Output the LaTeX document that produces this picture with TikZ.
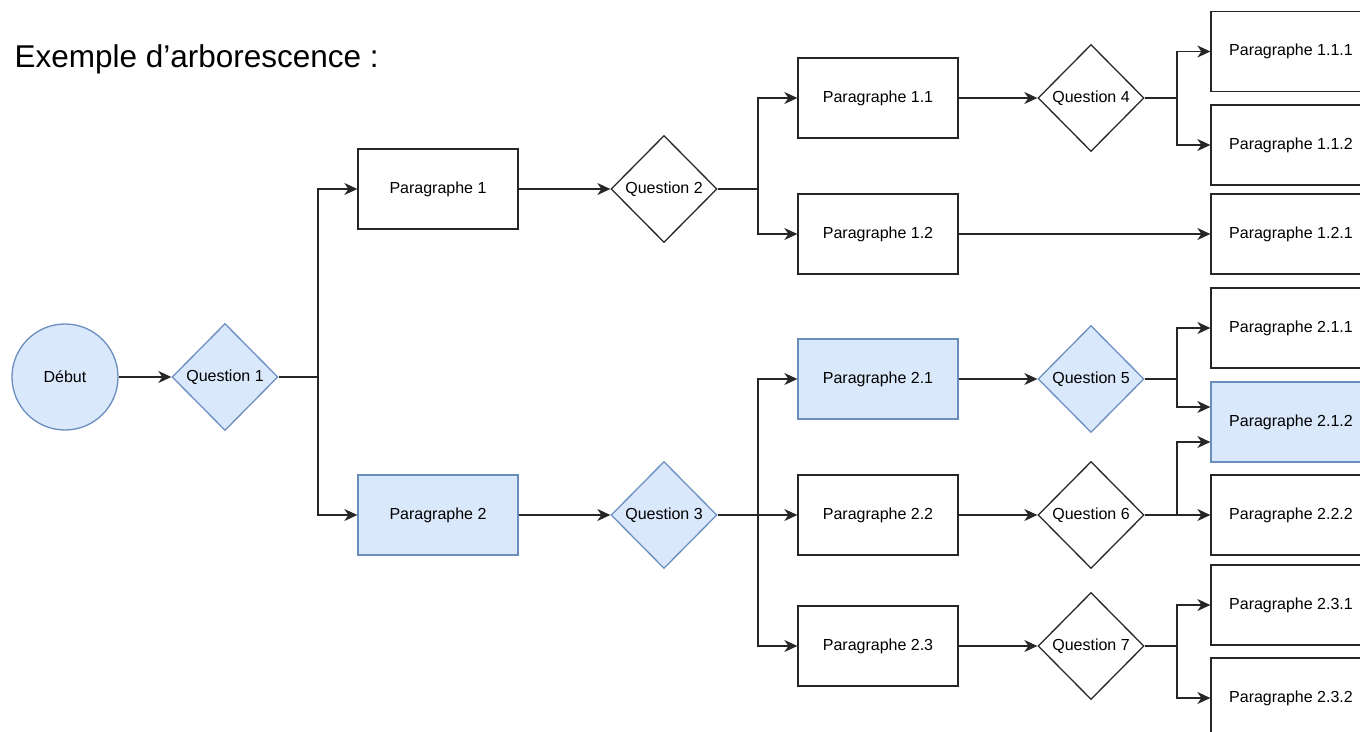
\documentclass[tikz,border=0pt]{standalone}
\usepackage{fontspec}
\setmainfont{Liberation Sans}
\usetikzlibrary{shapes.geometric,arrows.meta}
\definecolor{bleufond}{HTML}{DAE8FC}
\definecolor{bleutrait}{HTML}{6C8EBF}
\begin{document}
\begin{tikzpicture}[x=1pt,y=-1pt]
\tikzset{para/.style={rectangle,draw=black!85,line width=1.3pt,minimum width=160pt,minimum height=80pt,inner sep=0pt,font=\fontsize{16}{19}\selectfont},
ques/.style={diamond,draw=black!85,line width=1.3pt,minimum width=106pt,minimum height=107pt,inner sep=0pt,font=\fontsize{16}{19}\selectfont},
bleu/.style={fill=bleufond,draw=bleutrait},
arr/.style={-{Stealth[length=13pt,width=12pt,inset=4pt]},line width=1.4pt,black!85}}
\useasboundingbox (0,0) rectangle (1360,731);
\clip (0,0) rectangle (1360,731);
\node (titre) at (11,67) [anchor=base west,font=\fontsize{31.5}{38}\selectfont] {Exemple d’arborescence :};
\node (deb) at (65,377) [circle,bleu,line width=1.3pt,minimum size=106pt,inner sep=0pt,font=\fontsize{16}{19}\selectfont] {Début};
\node (q1) at (225,377) [ques,bleu] {Question 1};
\node (p1) at (438,189) [para] {Paragraphe 1};
\node (p2) at (438,515) [para,bleu] {Paragraphe 2};
\node (q2) at (664,189) [ques] {Question 2};
\node (q3) at (664,515) [ques,bleu] {Question 3};
\node (p11) at (878,98) [para] {Paragraphe 1.1};
\node (p12) at (878,234) [para] {Paragraphe 1.2};
\node (p21) at (878,379) [para,bleu] {Paragraphe 2.1};
\node (p22) at (878,515) [para] {Paragraphe 2.2};
\node (p23) at (878,646) [para] {Paragraphe 2.3};
\node (q4) at (1091,98) [ques] {Question 4};
\node (q5) at (1091,379) [ques,bleu] {Question 5};
\node (q6) at (1091,515) [ques] {Question 6};
\node (q7) at (1091,646) [ques] {Question 7};
\node (p111) at (1291,51.5) [para] {Paragraphe 1.1.1};
\node (p112) at (1291,145) [para] {Paragraphe 1.1.2};
\node (p121) at (1291,234) [para] {Paragraphe 1.2.1};
\node (p211) at (1291,328) [para] {Paragraphe 2.1.1};
\node (p212) at (1291,422) [para,bleu] {Paragraphe 2.1.2};
\node (p222) at (1291,515) [para] {Paragraphe 2.2.2};
\node (p231) at (1291,605) [para] {Paragraphe 2.3.1};
\node (p232) at (1291,698) [para] {Paragraphe 2.3.2};
\coordinate (j1) at (318,377);
\coordinate (j2) at (758,189);
\coordinate (j3) at (758,515);
\coordinate (j4) at (1177,98);
\coordinate (j5) at (1177,379);
\coordinate (j6) at (1177,515);
\coordinate (j7) at (1177,646);
\draw[arr] (deb)--(q1);
\draw[arr] (q1.east)--(j1)|-(p1); \draw[arr] (j1)|-(p2);
\draw[arr] (p1)--(q2); \draw[arr] (p2)--(q3);
\draw[arr] (q2.east)--(j2)|-(p11); \draw[arr] (j2)|-(p12);
\draw[arr] (q3.east)--(j3)|-(p21); \draw[arr] (j3)--(p22); \draw[arr] (j3)|-(p23);
\draw[arr] (p11)--(q4); \draw[arr] (p12)--(p121);
\draw[arr] (p21)--(q5); \draw[arr] (p22)--(q6); \draw[arr] (p23)--(q7);
\draw[arr] (q4.east)--(j4)|-(p111); \draw[arr] (j4)|-(p112);
\draw[arr] (q5.east)--(j5)|-(p211); \draw[arr] (j5)|-([yshift=15pt]p212.west);
\draw[arr] (q6.east)--(j6)--(p222); \draw[arr] (j6)|-([yshift=-20pt]p212.west);
\draw[arr] (q7.east)--(j7)|-(p231); \draw[arr] (j7)|-(p232);
\end{tikzpicture}
\end{document}
